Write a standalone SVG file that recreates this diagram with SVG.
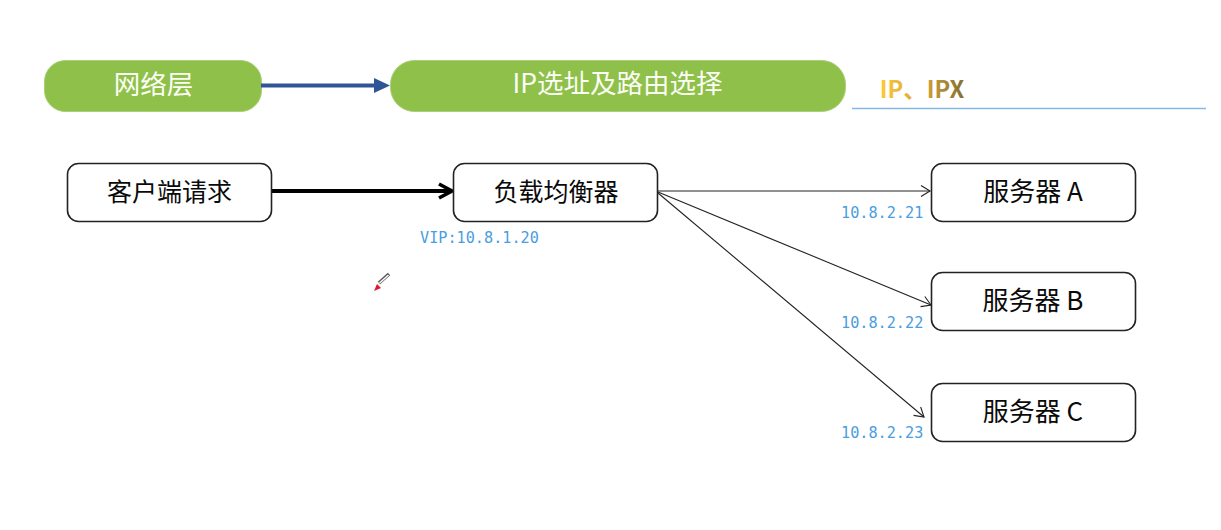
<svg xmlns="http://www.w3.org/2000/svg" width="1221" height="530" viewBox="0 0 1221 530">
<defs>
<linearGradient id="gold" gradientUnits="userSpaceOnUse" x1="880" y1="0" x2="964" y2="0"><stop offset="0" stop-color="#fdc93a"/><stop offset="0.5" stop-color="#d6a53a"/><stop offset="1" stop-color="#85702f"/></linearGradient>
<marker id="open" markerUnits="userSpaceOnUse" markerWidth="14" markerHeight="14" refX="10" refY="6" orient="auto" overflow="visible"><path d="M1 0.5 L10 6 L1 11.5" fill="none" stroke="#222" stroke-width="1.100"/></marker>
<marker id="bold" markerUnits="userSpaceOnUse" markerWidth="20" markerHeight="20" refX="15" refY="8" orient="auto" overflow="visible"><path d="M2 1 L15 8 L2 15" fill="none" stroke="#000" stroke-width="3.6"/></marker>
</defs>
<style>
text{font-family:"Noto Sans CJK SC","Liberation Sans",sans-serif;text-anchor:middle}
.g{fill:#8fc04a;stroke:#a9cf78;stroke-width:1}
.gt{fill:#fbfdf5;font-size:26.500px}
.b{fill:#fff;stroke:#222;stroke-width:1.600}
.bt{fill:#0a0a0a;font-size:25px}
.bs{fill:#0a0a0a;font-size:26px}
.ip{fill:#4a9de0;font-family:"DejaVu Sans Mono","Liberation Mono",monospace;font-size:15.200px;text-anchor:start}
.c{fill:none;stroke:#222;stroke-width:1.100;marker-end:url(#open)}
</style>
<rect width="1221" height="530" fill="#fff"/>
<g id="node-network"><rect class="g" x="44.500" y="60.500" width="217" height="51" rx="21"/><text class="gt" x="153.500" y="94">网络层</text></g>
<g id="node-ip-routing"><rect class="g" x="390.500" y="60.500" width="455" height="51" rx="24"/><text class="gt" x="617.500" y="93">IP选址及路由选择</text></g>
<g id="connectors">
<path d="M261 85.500H378" fill="none" stroke="#2f5597" stroke-width="4"/>
<path d="M374 78L390 85.500L374 93Z" fill="#2f5597"/>
<path d="M272 191H452" fill="none" stroke="#000" stroke-width="4" marker-end="url(#bold)"/>
<path class="c" d="M658 191H930"/>
<path class="c" d="M658 192L931 305"/>
<path class="c" d="M658 193L924 417"/>
</g>
<g id="protocols"><text x="922" y="98" font-size="23.500" font-weight="700" fill="url(#gold)">IP、IPX</text><path d="M852 108.500H1206" stroke="#86b8e6" stroke-width="1.300"/></g>
<g id="node-client"><rect class="b" x="67.500" y="163.500" width="204" height="58" rx="11"/><text class="bt" x="169.500" y="201">客户端请求</text></g>
<g id="node-lb"><rect class="b" x="453.500" y="163.500" width="204" height="58" rx="11"/><text class="bt" x="556" y="201">负载均衡器</text></g>
<g id="node-a"><rect class="b" x="931.500" y="163.500" width="204" height="58" rx="11"/><text class="bs" x="1033" y="201">服务器 A</text></g>
<g id="node-b"><rect class="b" x="931.500" y="272.500" width="204" height="58" rx="11"/><text class="bs" x="1033" y="310">服务器 B</text></g>
<g id="node-c"><rect class="b" x="931.500" y="383.500" width="204" height="58" rx="11"/><text class="bs" x="1033" y="421">服务器 C</text></g>
<text class="ip" x="420" y="243">VIP:10.8.1.20</text>
<text class="ip" x="841" y="218">10.8.2.21</text>
<text class="ip" x="841" y="328">10.8.2.22</text>
<text class="ip" x="841" y="438">10.8.2.23</text>
<g id="cursor"><path d="M379 283L389 274" stroke="#555" stroke-width="3.500"/><path d="M379.500 283L388.500 275" stroke="#fff" stroke-width="1.500"/><path d="M374 291L377 284L381 288Z" fill="#e0182a"/></g>
</svg>
